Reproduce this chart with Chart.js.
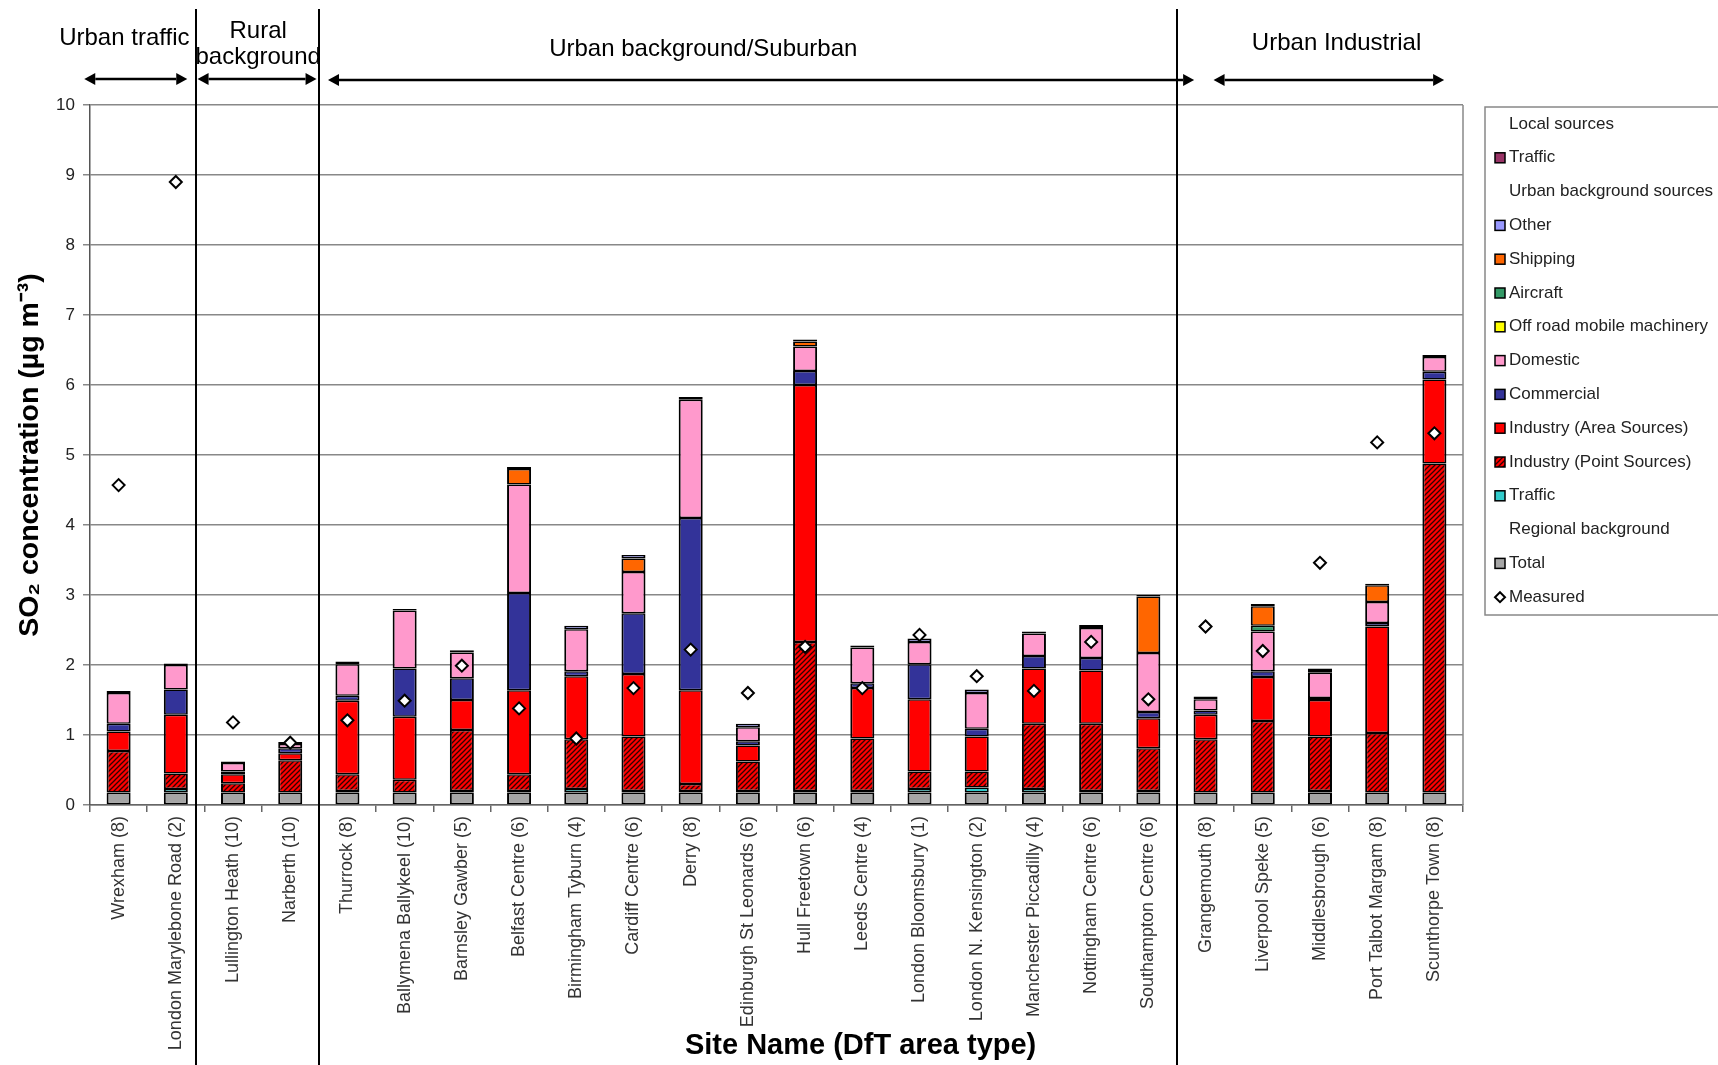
<!DOCTYPE html>
<html>
<head>
<meta charset="utf-8">
<title>SO2 concentration by source</title>
<script src="https://cdn.jsdelivr.net/npm/chart.js@4/dist/chart.umd.min.js"></script>
<style>
  html, body { margin: 0; padding: 0; background: #fff; }
  #wrap { width: 1718px; height: 1065px; }
</style>
</head>
<body>
<div id="wrap"><canvas id="so2Chart" width="1718" height="1065"></canvas></div>
<script>
// site names (DfT area type)
const sites = ['Wrexham (8)', 'London Marylebone Road (2)', 'Lullington Heath (10)', 'Narberth (10)',
  'Thurrock (8)', 'Ballymena Ballykeel (10)', 'Barnsley Gawber (5)', 'Belfast Centre (6)',
  'Birmingham Tyburn (4)', 'Cardiff Centre (6)', 'Derry (8)', 'Edinburgh St Leonards (6)',
  'Hull Freetown (6)', 'Leeds Centre (4)', 'London Bloomsbury (1)', 'London N. Kensington (2)',
  'Manchester Piccadilly (4)', 'Nottingham Centre (6)', 'Southampton Centre (6)', 'Grangemouth (8)',
  'Liverpool Speke (5)', 'Middlesbrough (6)', 'Port Talbot Margam (8)', 'Scunthorpe Town (8)'];

// modelled contributions, ug m-3 (bottom of the stack first)
const regionalTotal = [0.18, 0.18, 0.18, 0.18, 0.18, 0.18, 0.18, 0.18, 0.18, 0.18, 0.18, 0.18,
  0.18, 0.18, 0.18, 0.18, 0.18, 0.18, 0.18, 0.18, 0.18, 0.18, 0.18, 0.18];
const traffic = [0, 0.05, 0, 0, 0.02, 0, 0.02, 0.02, 0.05, 0.02, 0.02, 0.02,
  0.02, 0.02, 0.05, 0.07, 0.05, 0.02, 0.02, 0, 0, 0.02, 0, 0];
const industryPoint = [0.59, 0.22, 0.13, 0.46, 0.24, 0.18, 0.87, 0.24, 0.71, 0.78, 0.10, 0.42,
  2.13, 0.75, 0.25, 0.23, 0.93, 0.96, 0.61, 0.76, 1.02, 0.78, 0.85, 4.70];
const industryArea = [0.28, 0.84, 0.13, 0.10, 1.05, 0.90, 0.43, 1.20, 0.90, 0.89, 1.34, 0.23,
  3.67, 0.72, 1.03, 0.50, 0.79, 0.76, 0.43, 0.35, 0.63, 0.52, 1.52, 1.20];
const commercial = [0.11, 0.36, 0.04, 0.07, 0.07, 0.69, 0.31, 1.39, 0.07, 0.87, 2.46, 0.06,
  0.20, 0.07, 0.50, 0.11, 0.18, 0.18, 0.09, 0.06, 0.08, 0.03, 0.05, 0.11];
const domestic = [0.44, 0.35, 0.12, 0.06, 0.45, 0.83, 0.37, 1.55, 0.60, 0.59, 1.69, 0.20,
  0.35, 0.51, 0.32, 0.51, 0.32, 0.43, 0.84, 0.16, 0.57, 0.36, 0.30, 0.21];
const offRoad = [0, 0, 0, 0, 0, 0, 0, 0, 0, 0, 0, 0, 0, 0, 0, 0, 0, 0, 0, 0, 0, 0, 0, 0];
const aircraft = [0, 0, 0, 0, 0, 0, 0, 0, 0, 0, 0, 0, 0, 0, 0, 0, 0, 0, 0, 0, 0.08, 0, 0, 0];
const shipping = [0, 0, 0, 0, 0, 0, 0, 0.22, 0, 0.19, 0, 0, 0.07, 0, 0, 0, 0, 0, 0.81, 0, 0.28, 0.04, 0.24, 0];
const other = [0.03, 0.02, 0.02, 0.03, 0.04, 0.02, 0.03, 0.03, 0.05, 0.05, 0.04, 0.05,
  0.03, 0.03, 0.05, 0.05, 0.03, 0.04, 0.02, 0.04, 0.03, 0.02, 0.02, 0.03];
const localTraffic = [0, 0, 0, 0, 0, 0, 0, 0, 0, 0, 0, 0, 0, 0, 0, 0, 0, 0, 0, 0, 0, 0, 0, 0];
const measured = [4.57, 8.90, 1.18, 0.89, 1.21, 1.49, 1.99, 1.38, 0.95, 1.67, 2.22, 1.60,
  2.26, 1.67, 2.43, 1.84, 1.63, 2.33, 1.51, 2.55, 2.20, 3.46, 5.18, 5.31];

// y axis ticks
const yTicks = [0, 1, 2, 3, 4, 5, 6, 7, 8, 9, 10];

// area type groups shown above the plot
const groupNames = [['Urban traffic'], ['Rural', 'background'], ['Urban background/Suburban'], ['Urban Industrial']];

// hatched red fill for industry point sources
function makeHatch() {
  const c = document.createElement('canvas');
  c.width = 5; c.height = 5;
  const g = c.getContext('2d');
  g.fillStyle = '#ff0000';
  g.fillRect(0, 0, 5, 5);
  g.strokeStyle = '#300000';
  g.lineWidth = 1.3;
  g.beginPath();
  g.moveTo(-1, 6); g.lineTo(6, -1);
  g.moveTo(-1, 1); g.lineTo(1, -1);
  g.moveTo(4, 6); g.lineTo(6, 4);
  g.stroke();
  return g.createPattern(c, 'repeat');
}
const hatch = makeHatch();

const barBorder = { top: 1.5, bottom: 1.5, left: 2, right: 2 };
function barSet(label, data, color) {
  return {
    type: 'bar', label: label, data: data, backgroundColor: color,
    borderColor: '#000', borderWidth: barBorder, borderSkipped: false,
    barPercentage: 0.42, categoryPercentage: 1, order: 1
  };
}

const datasets = [
  barSet('Total', regionalTotal, '#a6a6a6'),
  barSet('Traffic', traffic, '#33cccc'),
  barSet('Industry (Point Sources)', industryPoint, hatch),
  barSet('Industry (Area Sources)', industryArea, '#ff0000'),
  barSet('Commercial', commercial, '#333399'),
  barSet('Domestic', domestic, '#ff99cc'),
  barSet('Off road mobile machinery', offRoad, '#ffff00'),
  barSet('Aircraft', aircraft, '#339966'),
  barSet('Shipping', shipping, '#ff6600'),
  barSet('Other', other, '#9999ff'),
  barSet('Traffic ', localTraffic, '#993366'),
  {
    type: 'line', label: 'Measured', data: measured, showLine: false, stack: 'measured',
    pointStyle: 'rectRot', pointRadius: 6, pointBackgroundColor: '#fff',
    pointBorderColor: '#000', pointBorderWidth: 2, order: 0
  }
];

// legend rows: headers (no swatch) and dataset indexes
const legendRows = [
  'Local sources', 10, 'Urban background sources', 9, 8, 7, 6, 5, 4, 3, 2, 1,
  'Regional background', 0, 11
];

function drawArrow(ctx, x1, x2, y) {
  const h = 11, w = 6;
  ctx.beginPath(); ctx.moveTo(x1 + h, y); ctx.lineTo(x2 - h, y); ctx.stroke();
  ctx.beginPath(); ctx.moveTo(x1, y); ctx.lineTo(x1 + h, y - w); ctx.lineTo(x1 + h, y + w); ctx.closePath(); ctx.fill();
  ctx.beginPath(); ctx.moveTo(x2, y); ctx.lineTo(x2 - h, y - w); ctx.lineTo(x2 - h, y + w); ctx.closePath(); ctx.fill();
}

const extras = {
  id: 'extras',
  afterDraw(chart) {
    const ctx = chart.ctx;
    const xs = chart.scales.x;
    const area = chart.chartArea;
    const px = v => xs.getPixelForValue(v);
    ctx.save();

    // right edge of plot
    ctx.strokeStyle = '#888';
    ctx.lineWidth = 1.5;
    ctx.beginPath(); ctx.moveTo(area.right, area.top); ctx.lineTo(area.right, area.bottom); ctx.stroke();

    // group separators
    ctx.strokeStyle = '#000';
    ctx.lineWidth = 2;
    [1.36, 3.5, 18.5].forEach(v => {
      const x = Math.round(px(v));
      ctx.beginPath(); ctx.moveTo(x, 9); ctx.lineTo(x, chart.height); ctx.stroke();
    });

    // group titles and arrows
    ctx.fillStyle = '#000';
    ctx.font = "24px 'Liberation Sans', Arial, sans-serif";
    ctx.textAlign = 'center';
    ctx.textBaseline = 'middle';
    const titleLayout = [
      { c: 0.1, y: [38] }, { c: 2.44, y: [31, 57] }, { c: 10.22, y: [49] }, { c: 21.29, y: [43] }
    ];
    groupNames.forEach((lines, i) => {
      lines.forEach((t, j) => ctx.fillText(t, px(titleLayout[i].c), titleLayout[i].y[j]));
    });
    ctx.lineWidth = 2.5;
    [[-0.6, 1.2, 79], [1.38, 3.46, 79], [3.66, 18.8, 80], [19.14, 23.17, 80]].forEach(a => {
      drawArrow(ctx, px(a[0]), px(a[1]), a[2]);
    });

    // x axis title
    ctx.font = "bold 29px 'Liberation Sans', Arial, sans-serif";
    ctx.fillText('Site Name (DfT area type)', px(12.97), 1046);

    // legend box
    ctx.strokeStyle = '#888';
    ctx.lineWidth = 1.5;
    ctx.strokeRect(1485, 107, 260, 508);
    ctx.font = "17px 'Liberation Sans', Arial, sans-serif";
    ctx.textAlign = 'left';
    legendRows.forEach((row, i) => {
      const y = 124 + i * 33.8;
      ctx.fillStyle = '#222';
      if (typeof row === 'string') {
        ctx.fillText(row, 1509, y);
        return;
      }
      const ds = chart.data.datasets[row];
      if (ds.type === 'line') {
        ctx.beginPath();
        ctx.moveTo(1500, y - 5); ctx.lineTo(1505, y); ctx.lineTo(1500, y + 5); ctx.lineTo(1495, y); ctx.closePath();
        ctx.fillStyle = '#fff'; ctx.fill();
        ctx.strokeStyle = '#000'; ctx.lineWidth = 2; ctx.stroke();
      } else {
        ctx.fillStyle = ds.backgroundColor;
        ctx.fillRect(1495, y - 5, 10, 10);
        ctx.strokeStyle = '#000'; ctx.lineWidth = 1.5;
        ctx.strokeRect(1495, y - 5, 10, 10);
      }
      ctx.fillStyle = '#222';
      ctx.fillText(ds.label.trim(), 1509, y);
    });
    ctx.restore();
  }
};

Chart.defaults.font.family = "'Liberation Sans', Arial, sans-serif";
Chart.defaults.color = '#222';

new Chart(document.getElementById('so2Chart').getContext('2d'), {
  data: { labels: sites, datasets: datasets },
  options: {
    responsive: false,
    devicePixelRatio: 1,
    animation: false,
    layout: { padding: { top: 105, right: 255, bottom: 0, left: 0 } },
    plugins: { legend: { display: false }, tooltip: { enabled: false } },
    scales: {
      x: {
        stacked: true,
        afterFit: s => { s.height = 260; },
        ticks: { autoSkip: false, maxRotation: 90, minRotation: 90, padding: 4, font: { size: 18 }, color: '#333' },
        grid: { offset: true, drawOnChartArea: false, tickLength: 7, color: '#666', lineWidth: 1.5 },
        border: { color: '#666', width: 1.5 }
      },
      y: {
        stacked: true,
        min: yTicks[0],
        max: yTicks[yTicks.length - 1],
        afterFit: s => { s.width = 90; },
        afterBuildTicks: s => { s.ticks = yTicks.map(v => ({ value: v })); },
        ticks: { padding: 8, font: { size: 17 }, color: '#222' },
        grid: { color: '#888', lineWidth: 1.5, tickLength: 7 },
        border: { color: '#555', width: 1.5 },
        title: {
          display: true,
          text: 'SO₂ concentration (µg m⁻³)',
          font: { size: 28.5, weight: 'bold' },
          color: '#000',
          padding: { top: 13, bottom: 0 }
        }
      }
    }
  },
  plugins: [extras]
});
</script>
</body>
</html>
